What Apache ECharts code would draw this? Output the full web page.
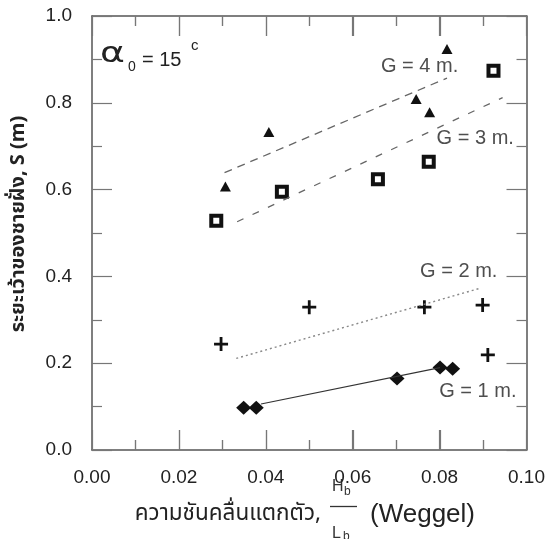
<!DOCTYPE html>
<html>
<head>
<meta charset="utf-8">
<script src="https://cdn.jsdelivr.net/npm/echarts@6/dist/echarts.min.js"></script>
<style>
  html, body { margin: 0; padding: 0; background: #fff; }
  #chart { width: 548px; height: 539px; }
</style>
</head>
<body>
<div id="chart"></div>
<script>
// Shoreline indentation S (m) against breaking wave steepness Hb/Lb, alpha0 = 15 deg
const xTicks = [0, 0.02, 0.04, 0.06, 0.08, 0.10];
const yTicks = [0, 0.2, 0.4, 0.6, 0.8, 1.0];
// Frame tick marks along the x edges: [value, isMajor]
const xTickMarks = [[0.01, 0], [0.02, 1], [0.03, 0], [0.04, 1], [0.05, 0], [0.06, 1], [0.07, 0], [0.08, 1], [0.09, 0]];

// Measured points for each groyne spacing G
const g4Points = [[0.0307, 0.607], [0.0407, 0.733], [0.0746, 0.809], [0.0777, 0.778], [0.0817, 0.924]];
const g3Points = [[0.0286, 0.528], [0.0437, 0.595], [0.0658, 0.624], [0.0775, 0.664], [0.0924, 0.874]];
const g2Points = [[0.0297, 0.244], [0.0500, 0.329], [0.0765, 0.329], [0.0899, 0.334], [0.0911, 0.219]];
const g1Points = [[0.0349, 0.0975], [0.0378, 0.0975], [0.0702, 0.165], [0.0801, 0.190], [0.0830, 0.187]];

// Fitted trend lines (end points)
const g4Trend = [[0.0305, 0.639], [0.0817, 0.857]];
const g3Trend = [[0.0334, 0.526], [0.0945, 0.812]];
const g2Trend = [[0.0332, 0.211], [0.0894, 0.373]];
const g1Trend = [[0.0389, 0.106], [0.0801, 0.190]];

// Curve labels placed in data coordinates
const curveLabels = [
  { name: 'G = 4 m.', value: [0.0754, 0.883] },
  { name: 'G = 3 m.', value: [0.0882, 0.718] },
  { name: 'G = 2 m.', value: [0.0844, 0.411] },
  { name: 'G = 1 m.', value: [0.0888, 0.134] }
];

const FONT = '"Liberation Sans", Arial, Helvetica, sans-serif';
const THAI = '"Noto Sans Thai", "Noto Sans Thai Looped", Tahoma, "Loma", "Garuda", sans-serif';
const frame = '#555';
const tickColor = '#777';

const plusPath = 'path://M4,0H6V4H10V6H6V10H4V6H0V4H4Z';

const chart = echarts.init(document.getElementById('chart'));

// Boxed frame: every side carries inward major + minor ticks
function frameAxis(showLabels, fmt, margin) {
  return {
    type: 'value',
    axisLine: { show: true, onZero: false, lineStyle: { color: frame, width: 1.5 } },
    axisTick: { show: true, inside: true, length: 20, lineStyle: { color: tickColor, width: 1.2 } },
    minorTick: { show: true, splitNumber: 2, length: 10, lineStyle: { color: tickColor, width: 1.2 } },
    splitLine: { show: false },
    axisLabel: { show: showLabels, margin: margin, color: '#222', fontSize: 19, fontFamily: FONT, formatter: v => fmt(v) }
  };
}

const xMin = xTicks[0], xMax = xTicks[xTicks.length - 1], xStep = xTicks[1] - xTicks[0];
const yMin = yTicks[0], yMax = yTicks[yTicks.length - 1], yStep = yTicks[1] - yTicks[0];

const markerStyle = { color: '#111', opacity: 1 };

// Draws the inward ticks on the bottom and top edges through the x scale
function renderEdgeTicks(params, api) {
  const v = api.value(0);
  const len = api.value(1) ? 20 : 10;
  const pb = api.coord([v, yMin]);
  const pt = api.coord([v, yMax]);
  const x = Math.round(pb[0]) + 0.5;
  const st = { stroke: tickColor, lineWidth: 1.2 };
  return {
    type: 'group',
    children: [
      { type: 'line', shape: { x1: x, y1: pb[1], x2: x, y2: pb[1] - len }, style: st },
      { type: 'line', shape: { x1: x, y1: pt[1], x2: x, y2: pt[1] + len }, style: st }
    ]
  };
}

chart.setOption({
  animation: false,
  grid: { left: 92, right: 20, top: 16, bottom: 89 },
  xAxis: [
    Object.assign(frameAxis(true, v => v.toFixed(2), 18), { min: xMin, max: xMax, interval: xStep }),
    Object.assign(frameAxis(false, v => '', 0), { min: xMin, max: xMax, interval: xStep, position: 'top' })
  ],
  yAxis: [
    Object.assign(frameAxis(true, v => v.toFixed(1), 20), { min: yMin, max: yMax, interval: yStep }),
    Object.assign(frameAxis(false, v => '', 0), { min: yMin, max: yMax, interval: yStep, position: 'right' })
  ],
  series: [
    { type: 'custom', data: xTickMarks, renderItem: renderEdgeTicks, silent: true, clip: false, z: 1,
      encode: { x: 0, y: 1 } },
    { type: 'line', data: g4Trend, symbol: 'none', silent: true,
      lineStyle: { color: '#666', width: 1.3, type: [8, 6] } },
    { type: 'line', data: g3Trend, symbol: 'none', silent: true,
      lineStyle: { color: '#666', width: 1.3, type: [7, 10] } },
    { type: 'line', data: g2Trend, symbol: 'none', silent: true,
      lineStyle: { color: '#888', width: 1.4, type: [2, 3] } },
    { type: 'line', data: g1Trend, symbol: 'none', silent: true,
      lineStyle: { color: '#333', width: 1.2, type: 'solid' } },
    { type: 'scatter', data: g4Points, symbol: 'triangle', symbolSize: [11, 10], itemStyle: markerStyle },
    { type: 'scatter', data: g3Points, symbol: 'rect', symbolSize: 10,
      itemStyle: { color: '#fff', borderColor: '#111', borderWidth: 4, opacity: 1 } },
    { type: 'scatter', data: g2Points, symbol: plusPath, symbolSize: 14, itemStyle: markerStyle },
    { type: 'scatter', data: g1Points, symbol: 'diamond', symbolSize: [15, 14], itemStyle: markerStyle },
    { type: 'scatter', data: curveLabels, symbolSize: 1, silent: true,
      itemStyle: { color: 'transparent' },
      label: { show: true, position: 'inside', formatter: p => p.name, color: '#222', fontSize: 20, fontFamily: FONT } }
  ],
  graphic: [
    // angle annotation
    { type: 'text', x: 100, y: 55, scaleX: 1.35,
      style: { text: 'α', fontSize: 28, fontFamily: '"DejaVu Sans", sans-serif', fill: '#222', verticalAlign: 'middle' } },
    { type: 'text', x: 128, y: 67, style: { text: '0', fontSize: 14, fontFamily: FONT, fill: '#222', verticalAlign: 'middle' } },
    { type: 'text', x: 142, y: 60, style: { text: '= 15', fontSize: 20, fontFamily: FONT, fill: '#222', verticalAlign: 'middle' } },
    { type: 'text', x: 191, y: 46, style: { text: 'c', fontSize: 15, fontFamily: FONT, fill: '#222', verticalAlign: 'middle' } },
    // y axis title
    { type: 'text', x: 20, y: 224, rotation: Math.PI / 2,
      style: { text: 'ระยะเว้าของชายฝั่ง, S (m)', fontSize: 20, fontWeight: 'bold', fontFamily: THAI, fill: '#222',
        align: 'center', verticalAlign: 'middle' } },
    // x axis title
    { type: 'text', x: 321, y: 515,
      style: { text: 'ความชันคลื่นแตกตัว,', fontSize: 22.5, fontFamily: THAI, fill: '#222', align: 'right', verticalAlign: 'middle' } },
    { type: 'text', x: 332, y: 495, style: { text: 'H', fontSize: 16, fontFamily: FONT, fill: '#333', verticalAlign: 'bottom' } },
    { type: 'text', x: 344, y: 498, style: { text: 'b', fontSize: 12, fontFamily: FONT, fill: '#333', verticalAlign: 'bottom' } },
    { type: 'line', shape: { x1: 330, y1: 506.5, x2: 357, y2: 506.5 }, style: { stroke: '#333', lineWidth: 1.3 } },
    { type: 'text', x: 332, y: 526, style: { text: 'L', fontSize: 16, fontFamily: FONT, fill: '#333', verticalAlign: 'top' } },
    { type: 'text', x: 343, y: 531, style: { text: 'b', fontSize: 12, fontFamily: FONT, fill: '#333', verticalAlign: 'top' } },
    { type: 'text', x: 370, y: 515,
      style: { text: '(Weggel)', fontSize: 26, fontFamily: FONT, fill: '#222', verticalAlign: 'middle' } }
  ]
});
</script>
</body>
</html>
